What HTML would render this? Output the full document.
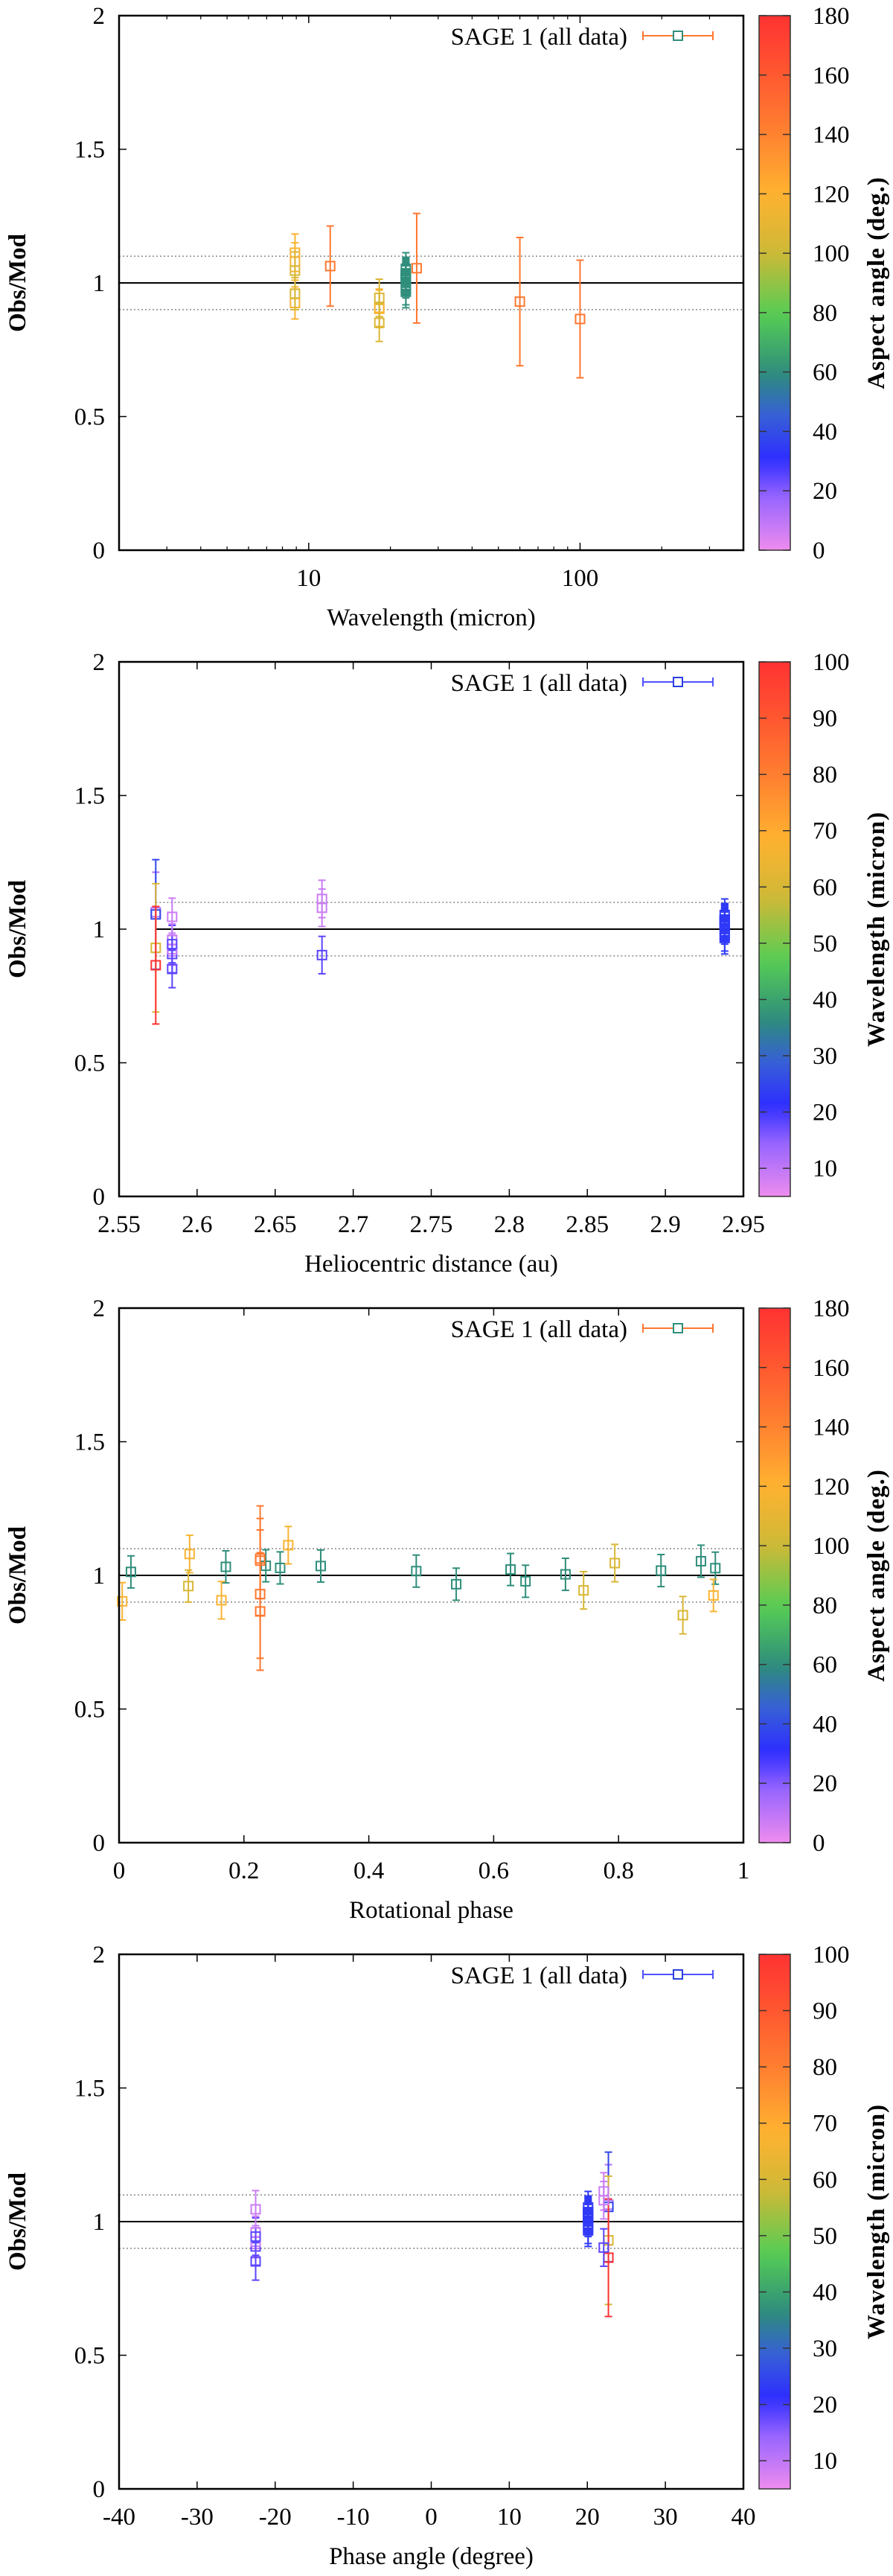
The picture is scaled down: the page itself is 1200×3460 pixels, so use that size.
<!DOCTYPE html>
<html><head><meta charset="utf-8"><title>SAGE 1 Obs/Mod</title>
<style>
html,body{margin:0;padding:0;background:#fff;}
svg{display:block;font-family:"Liberation Serif",serif;}
svg text{font-family:"Liberation Serif",serif;}
</style></head>
<body>
<svg id="fig" xmlns="http://www.w3.org/2000/svg" width="1200" height="3460" viewBox="0 0 1200 3460" font-family="Liberation Serif, serif">
<rect width="1200" height="3460" fill="#fff"/>
</svg>
<script>
// ---- data (one entry per observation) ----
const obsLambda = [22.8,22.8,22.8,22.8,22.8,22.8,22.8,22.8,22.8,22.8,22.8,22.8,22.8, 12,25,60,100, 18.2,8.9,8.9,18.2,8.9,8.9,18.2,8.9,18.2];
const obsRatio  = [1.013,1.032,1.036,1.028,1.035,1.016,0.967,1.022,0.978,1.004,1.018,1.053,1.027, 1.063,1.055,0.93,0.865, 0.903,1.08,1.113,0.907,0.925,0.96,0.944,1.046,0.851];
const obsError  = [0.06,0.06,0.06,0.06,0.06,0.06,0.06,0.06,0.06,0.06,0.06,0.06,0.06, 0.15,0.205,0.24,0.22, 0.07,0.07,0.07,0.07,0.06,0.06,0.07,0.07,0.07];
const obsAspect = [60,60,60,60,60,60,60,60,60,60,60,60,60, 145,145,145,145, 118,118,118,118,118,105,105,105,105];
const obsHelio  = [2.938,2.938,2.938,2.938,2.938,2.938,2.938,2.938,2.938,2.938,2.938,2.938,2.938, 2.5735,2.5735,2.5735,2.5735, 2.680,2.680,2.680,2.584,2.584,2.584,2.584,2.584,2.584];
const obsPhaseAngle = [20.1,20.1,20.1,20.1,20.1,20.1,20.1,20.1,20.1,20.1,20.1,20.1,20.1, 22.7,22.7,22.7,22.7, 22.1,22.1,22.1,-22.5,-22.5,-22.5,-22.5,-22.5,-22.5];
const obsRotPhase = [0.019,0.171,0.235,0.258,0.323,0.476,0.540,0.627,0.651,0.715,0.868,0.932,0.955, 0.226,0.226,0.226,0.226, 0.005,0.113,0.271,0.164,0.952,0.111,0.744,0.794,0.903];

const yTicks = [0,0.5,1,1.5,2];
const yTickLabels = ["0","0.5","1","1.5","2"];
const aspectTicks = [0,20,40,60,80,100,120,140,160,180];
const lambdaCbTicks = [10,20,30,40,50,60,70,80,90,100];
const p1XTicks = [10,100];
const p2XTicks = [2.55,2.6,2.65,2.7,2.75,2.8,2.85,2.9,2.95];
const p3XTicks = [0,0.2,0.4,0.6,0.8,1];
const p4XTicks = [-40,-30,-20,-10,0,10,20,30,40];

// ---- layout ----
const NS = "http://www.w3.org/2000/svg";
const svg = document.getElementById('fig');
const L = 160, R = 999, H = 718, CBX = 1020, CBW = 42;
const PANEL_TOPS = [21, 889, 1757, 2625];
const FONT = '"Liberation Serif", serif';

const stops = [[0,[238,140,238]],[0.1,[150,100,255]],[0.17,[45,45,255]],[0.25,[55,95,215]],[0.33,[46,140,124]],[0.44,[85,205,85]],[0.556,[205,185,55]],[0.667,[255,178,48]],[0.78,[255,130,48]],[0.89,[255,88,48]],[1,[255,50,50]]];
function pal(t){
  t=Math.max(0,Math.min(1,t));
  for(let i=1;i<stops.length;i++){
    if(t<=stops[i][0]){
      const a=stops[i-1],b=stops[i],f=(t-a[0])/(b[0]-a[0]);
      const c=a[1].map((v,k)=>Math.round(v+(b[1][k]-v)*f));
      return `rgb(${c[0]},${c[1]},${c[2]})`;
    }
  }
  return 'rgb(255,50,50)';
}
function mk(tag, attrs, parent){
  const e=document.createElementNS(NS,tag);
  for(const k in attrs) e.setAttribute(k,attrs[k]);
  if(tag==='text') e.setAttribute('font-family',FONT);
  (parent||svg).appendChild(e); return e;
}
const gr = mk('linearGradient',{id:'cbgrad',x1:0,y1:1,x2:0,y2:0}, mk('defs',{}));
for(let i=0;i<=40;i++){ mk('stop',{offset:(i/40),'stop-color':pal(i/40)},gr); }

function drawPanel(idx, cfg){
  const top = PANEL_TOPS[idx], bot = top+H;
  const g = mk('g',{});
  
  
  const ys = v => bot - v/2*H;
  const xs = cfg.xs;
  const lx0 = cfg.refStart!==undefined ? xs(cfg.refStart) : L;
  const ref = mk('line',{x1:lx0,x2:R,y1:ys(1),y2:ys(1),stroke:'#000','stroke-width':2},g);
  
  
  [0.9,1.1].forEach(v=>{
    const d = mk('line',{x1:lx0,x2:R,y1:ys(v),y2:ys(v),stroke:'#888','stroke-width':1.5,'stroke-dasharray':'2,3'},g);
    
    
  });
  yTicks.forEach((v,i)=>{
    mk('line',{x1:L,x2:L+10,y1:ys(v),y2:ys(v),stroke:'#000','stroke-width':1.5},g);
    mk('line',{x1:R-10,x2:R,y1:ys(v),y2:ys(v),stroke:'#000','stroke-width':1.5},g);
    const t = mk('text',{x:141,y:ys(v)+11,'font-size':33,'text-anchor':'end'},g);
    t.textContent = yTickLabels[i];
    
    
  });
  cfg.xticks.forEach((v,i)=>{
    const x=xs(v);
    mk('line',{x1:x,x2:x,y1:bot,y2:bot-10,stroke:'#000','stroke-width':1.5},g);
    mk('line',{x1:x,x2:x,y1:top,y2:top+10,stroke:'#000','stroke-width':1.5},g);
    const t = mk('text',{x:x,y:bot+48,'font-size':33,'text-anchor':'middle'},g);
    t.textContent = cfg.xlabels[i];
    
    
  });
  (cfg.minor||[]).forEach(v=>{
    const x=xs(v);
    mk('line',{x1:x,x2:x,y1:bot,y2:bot-5,stroke:'#000','stroke-width':1.2},g);
    mk('line',{x1:x,x2:x,y1:top,y2:top+5,stroke:'#000','stroke-width':1.2},g);
  });
  for(let i=0;i<obsRatio.length;i++){
    const x = xs(cfg.xdata[i]);
    const col = cfg.color(i);
    const y = ys(obsRatio[i]), y1=ys(obsRatio[i]+obsError[i]), y2=ys(obsRatio[i]-obsError[i]);
    const pg = mk('g',{stroke:col,'stroke-width':2,fill:'none'},g);
    
    
    mk('line',{x1:x,x2:x,y1:y1,y2:y2},pg);
    mk('line',{x1:x-5,x2:x+5,y1:y1,y2:y1},pg);
    mk('line',{x1:x-5,x2:x+5,y1:y2,y2:y2},pg);
    mk('rect',{x:x-6,y:y-6,width:12,height:12,fill:'none'},pg);
  }
  const fr = mk('rect',{x:L,y:top,width:R-L,height:H,fill:'none',stroke:'#000','stroke-width':2.5},g);
  
  
  const ly = top+27;
  const lt = mk('text',{x:843,y:ly+12,'font-size':33,'text-anchor':'end'},g);
  lt.textContent = 'SAGE 1 (all data)';
  
  
  const lg = mk('g',{stroke:cfg.legLine,'stroke-width':2,fill:'none'},g);
  
  
  mk('line',{x1:864,x2:958,y1:ly,y2:ly},lg);
  mk('line',{x1:864,x2:864,y1:ly-6,y2:ly+6},lg);
  mk('line',{x1:958,x2:958,y1:ly-6,y2:ly+6},lg);
  mk('rect',{x:905,y:ly-6,width:12,height:12,stroke:cfg.legBox,fill:'#fff'},lg);
  const xt = mk('text',{x:(L+R)/2,y:bot+101,'font-size':33,'text-anchor':'middle'},g);
  xt.textContent = cfg.xtitle;
  
  
  const yt = mk('text',{x:0,y:0,'font-size':33,'font-weight':'bold','text-anchor':'middle',transform:`translate(34,${(top+bot)/2}) rotate(-90)`},g);
  yt.textContent = 'Obs/Mod';
  
  
  const cb = mk('rect',{x:CBX,y:top,width:CBW,height:H,fill:'url(#cbgrad)',stroke:'#333','stroke-width':1.5},g);
  
  
  const cy = v => bot - (v-cfg.cmin)/(cfg.cmax-cfg.cmin)*H;
  cfg.cticks.forEach(v=>{
    const y=cy(v);
    mk('line',{x1:CBX,x2:CBX+10,y1:y,y2:y,stroke:'#333','stroke-width':1.5},g);
    mk('line',{x1:CBX+CBW-10,x2:CBX+CBW,y1:y,y2:y,stroke:'#333','stroke-width':1.5},g);
    const t = mk('text',{x:1092,y:y+11,'font-size':33},g);
    t.textContent = String(v);
    
    
  });
  const ct = mk('text',{x:0,y:0,'font-size':33,'font-weight':'bold','text-anchor':'middle','letter-spacing':'1',transform:`translate(1188,${(top+bot)/2}) rotate(-90)`},g);
  ct.textContent = cfg.ctitle;
  
  
}

const logX = v => L + (R-L)*Math.log10(v/2)/Math.log10(400/2);
const linX = (a,b) => v => L + (R-L)*(v-a)/(b-a);
const aspectColor = i => pal(obsAspect[i]/180);
const lambdaColor = i => pal((obsLambda[i]-5)/95);
const p1Minor = [2,3,4,5,6,7,8,9,20,30,40,50,60,70,80,90,200,300,400];

drawPanel(0,{name:'panel-wavelength',xs:logX,xticks:p1XTicks,xlabels:['10','100'],minor:p1Minor,xdata:obsLambda,color:aspectColor,
  legLine:pal(145/180),legBox:pal(60/180),xtitle:'Wavelength (micron)',ctitle:'Aspect angle (deg.)',cmin:0,cmax:180,cticks:aspectTicks});
drawPanel(1,{name:'panel-heliocentric',xs:linX(2.55,2.95),xticks:p2XTicks,xlabels:p2XTicks.map(v=>String(v)),xdata:obsHelio,color:lambdaColor,refStart:2.5735,
  legLine:'#5050ff',legBox:'#2a40e0',xtitle:'Heliocentric distance (au)',ctitle:'Wavelength (micron)',cmin:5,cmax:100,cticks:lambdaCbTicks});
drawPanel(2,{name:'panel-rotational-phase',xs:linX(0,1),xticks:p3XTicks,xlabels:p3XTicks.map(v=>String(v)),xdata:obsRotPhase,color:aspectColor,
  legLine:pal(145/180),legBox:pal(60/180),xtitle:'Rotational phase',ctitle:'Aspect angle (deg.)',cmin:0,cmax:180,cticks:aspectTicks});
drawPanel(3,{name:'panel-phase-angle',xs:linX(-40,40),xticks:p4XTicks,xlabels:p4XTicks.map(v=>String(v)),xdata:obsPhaseAngle,color:lambdaColor,
  legLine:'#5050ff',legBox:'#2a40e0',xtitle:'Phase angle (degree)',ctitle:'Wavelength (micron)',cmin:5,cmax:100,cticks:lambdaCbTicks});
</script>
</body></html>
